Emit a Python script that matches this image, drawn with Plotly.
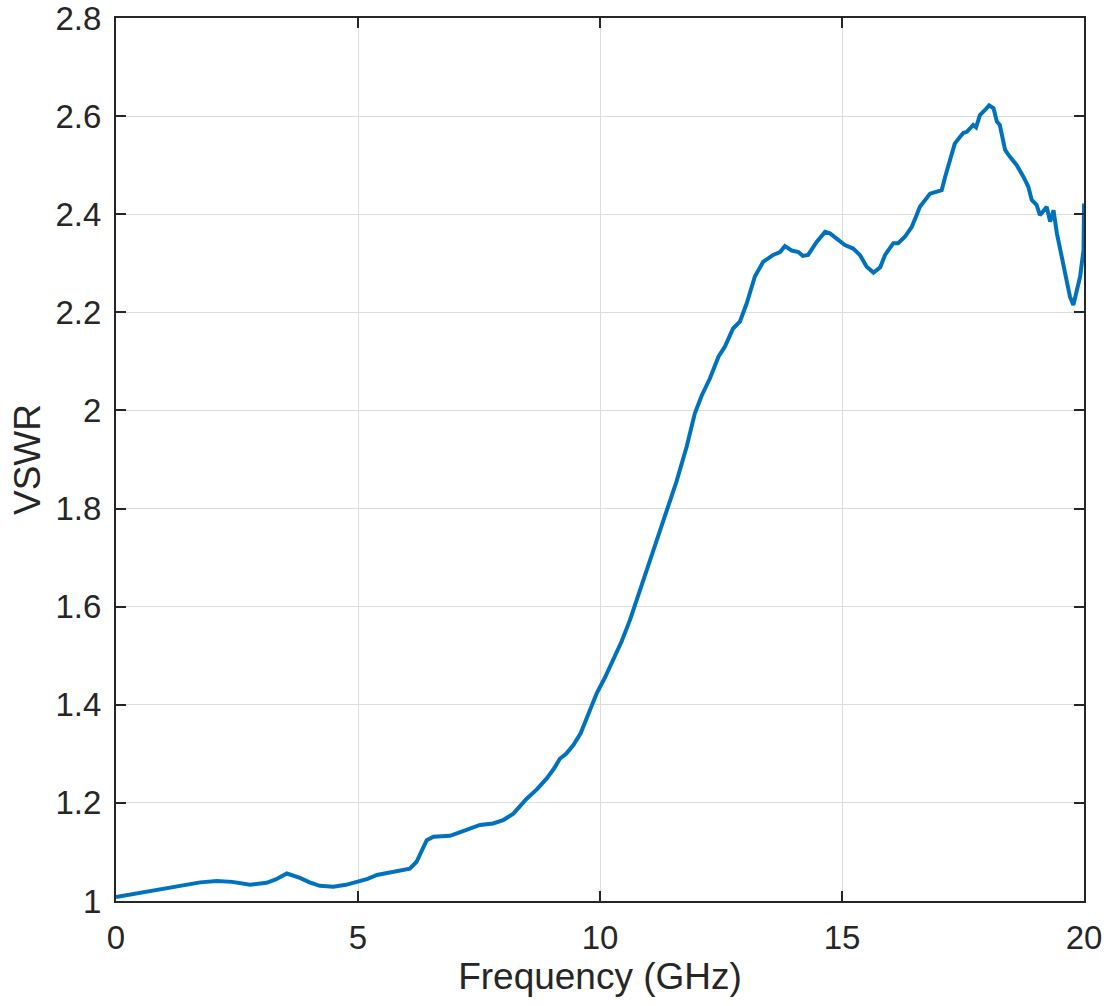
import plotly.graph_objects as go

freq_ghz = [0, 0.35, 0.7, 1.0, 1.4, 1.74, 2.08, 2.4, 2.77, 3.11, 3.3, 3.53, 3.8, 4.0, 4.21, 4.49,
            4.75, 4.97, 5.2, 5.39, 5.6, 5.87, 6.07, 6.21, 6.3, 6.42, 6.56, 6.9, 7.1, 7.25, 7.52,
            7.79, 8.0, 8.21, 8.48, 8.7, 8.9, 9.05, 9.17, 9.3, 9.45, 9.6, 9.72, 9.93, 10.1, 10.27,
            10.45, 10.62, 10.9, 11.17, 11.38, 11.58, 11.79, 11.96, 12.1, 12.27, 12.45, 12.58,
            12.75, 12.89, 13.03, 13.2, 13.37, 13.58, 13.72, 13.82, 13.96, 14.1, 14.19, 14.3,
            14.48, 14.65, 14.75, 14.89, 15.06, 15.23, 15.37, 15.51, 15.65, 15.79, 15.89, 16.06,
            16.16, 16.3, 16.44, 16.54, 16.61, 16.82, 16.95, 17.06, 17.13, 17.23, 17.33, 17.44,
            17.51, 17.58, 17.64, 17.71, 17.77, 17.85, 17.95, 18.04, 18.13, 18.2, 18.26, 18.37,
            18.47, 18.61, 18.75, 18.85, 18.92, 19.02, 19.09, 19.16, 19.23, 19.3, 19.37, 19.44,
            19.54, 19.64, 19.71, 19.78, 19.85, 19.92, 19.99, 20.0]

vswr = [1.008, 1.014, 1.020, 1.025, 1.031, 1.038, 1.041, 1.039, 1.033, 1.037, 1.044, 1.056, 1.047,
        1.038, 1.031, 1.029, 1.033, 1.038, 1.045, 1.053, 1.057, 1.063, 1.066, 1.080, 1.100, 1.124,
        1.131, 1.133, 1.140, 1.146, 1.155, 1.158, 1.165, 1.178, 1.208, 1.228, 1.250, 1.270, 1.290,
        1.300, 1.318, 1.342, 1.370, 1.423, 1.455, 1.490, 1.530, 1.573, 1.654, 1.736, 1.797, 1.855,
        1.926, 1.994, 2.030, 2.065, 2.110, 2.130,
        2.167, 2.181, 2.218, 2.273, 2.303, 2.317, 2.323, 2.335, 2.326, 2.323, 2.315, 2.317,
        2.344, 2.364, 2.361, 2.349, 2.337, 2.330, 2.317, 2.293, 2.281, 2.292, 2.317, 2.341,
        2.341, 2.354, 2.374, 2.398, 2.415, 2.442, 2.446, 2.449, 2.476, 2.510, 2.544, 2.558,
        2.566, 2.568, 2.575, 2.582, 2.577, 2.602, 2.612, 2.622, 2.616, 2.589, 2.582, 2.531,
        2.517, 2.500, 2.476, 2.456, 2.429, 2.419, 2.398, 2.408, 2.415, 2.385, 2.408, 2.361,
        2.313, 2.259, 2.232, 2.215, 2.245, 2.273, 2.327, 2.422]

x_ticks = [0, 5, 10, 15, 20]
y_ticks = [1, 1.2, 1.4, 1.6, 1.8, 2, 2.2, 2.4, 2.6, 2.8]
y_tick_labels = ["1", "1.2", "1.4", "1.6", "1.8", "2", "2.2", "2.4", "2.6", "2.8"]

fig = go.Figure()
fig.add_trace(go.Scatter(x=freq_ghz, y=vswr, mode="lines",
                         line=dict(color="#0072BD", width=4), showlegend=False))

axis_common = dict(
    showline=True, linecolor="#262626", linewidth=2, mirror="ticks",
    ticks="inside", ticklen=10, tickwidth=2, tickcolor="#262626",
    showgrid=True, gridcolor="#dcdcdc", gridwidth=1, zeroline=False,
    automargin=False, ticklabeloverflow="allow",
    tickfont=dict(family="Liberation Sans, Arial", size=33, color="#262626"),
)

fig.update_xaxes(range=[0, 20], tickvals=x_ticks, ticktext=[str(t) for t in x_ticks],
                 title=dict(text="Frequency (GHz)", standoff=8,
                            font=dict(family="Liberation Sans, Arial", size=37, color="#262626")),
                 ticklabelstandoff=6, **axis_common)
fig.update_yaxes(range=[1, 2.8], tickvals=y_ticks, ticktext=y_tick_labels,
                 ticklabelstandoff=6, **axis_common)

# y-axis title placed as rotated text left of the tick labels
fig.add_annotation(text="VSWR", textangle=-90, showarrow=False,
                   xref="paper", yref="paper", x=(27.5 - 116) / 968, y=0.5,
                   xanchor="center", yanchor="middle",
                   font=dict(family="Liberation Sans, Arial", size=37, color="#262626"))

fig.update_layout(width=1108, height=1006,
                  margin=dict(l=116, r=24, t=18, b=105),
                  paper_bgcolor="white", plot_bgcolor="white")

fig.write_html("out.html", config={"displayModeBar": False},
               post_script="document.body.style.margin='0';document.body.style.overflow='hidden';")
